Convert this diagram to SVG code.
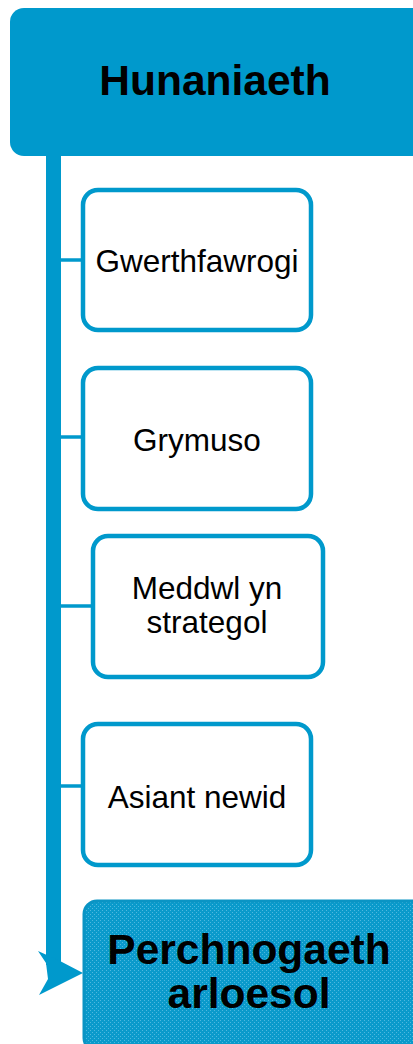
<svg xmlns="http://www.w3.org/2000/svg" width="413" height="1044" viewBox="0 0 413 1044">
  <style>
    .head { fill: #0099CC; }
    .step { fill: #FFFFFF; stroke: #0099CC; stroke-width: 4.5; }
    .goal { fill: url(#dots); stroke: #0A94C4; stroke-width: 3; }
    .link { stroke: #0099CC; stroke-width: 3.5; fill: none; }
    .spine { fill: #0099CC; }
    text { font-family: "Liberation Sans", Arial, sans-serif; fill: #000000; text-anchor: middle; }
    .big { font-size: 42.5px; font-weight: bold; }
    .lbl { font-size: 31.5px; }
  </style>
  <defs>
    <pattern id="dots" width="4" height="4" patternUnits="userSpaceOnUse">
      <rect width="4" height="4" fill="#0A9ACB"/>
      <rect x="0" y="0" width="1" height="1" fill="#4DB8DF"/>
      <rect x="2" y="2" width="1" height="1" fill="#4DB8DF"/>
    </pattern>
  </defs>

  <!-- header -->
  <g id="node-hunaniaeth">
    <rect class="head" x="10" y="8" width="420" height="148" rx="14"/>
    <text class="big" x="215" y="95">Hunaniaeth</text>
  </g>

  <!-- spine, branches and arrow into the final box -->
  <g id="connectors">
    <rect class="spine" x="46" y="150" width="15" height="815"/>
    <polygon class="spine" points="38,951 60,961 83,973 39,995 48,979 46,963"/>
    <line class="link" x1="60" y1="260" x2="83" y2="260"/>
    <line class="link" x1="60" y1="437" x2="83" y2="437"/>
    <line class="link" x1="60" y1="606" x2="93" y2="606"/>
    <line class="link" x1="60" y1="786" x2="83" y2="786"/>
  </g>

  <g id="node-gwerthfawrogi">
    <rect class="step" x="83" y="190" width="228" height="140" rx="15"/>
    <text class="lbl" x="197" y="272">Gwerthfawrogi</text>
  </g>

  <g id="node-grymuso">
    <rect class="step" x="83" y="368" width="228" height="141" rx="15"/>
    <text class="lbl" x="197" y="451">Grymuso</text>
  </g>

  <g id="node-meddwl">
    <rect class="step" x="93" y="536" width="230" height="141" rx="15"/>
    <text class="lbl" x="207" y="599">Meddwl yn</text>
    <text class="lbl" x="207" y="633">strategol</text>
  </g>

  <g id="node-asiant">
    <rect class="step" x="83" y="724" width="228" height="141" rx="15"/>
    <text class="lbl" x="197" y="808">Asiant newid</text>
  </g>

  <g id="node-perchnogaeth">
    <rect class="goal" x="84" y="901" width="340" height="150" rx="13"/>
    <text class="big" x="249" y="964">Perchnogaeth</text>
    <text class="big" x="249" y="1008">arloesol</text>
  </g>
</svg>
